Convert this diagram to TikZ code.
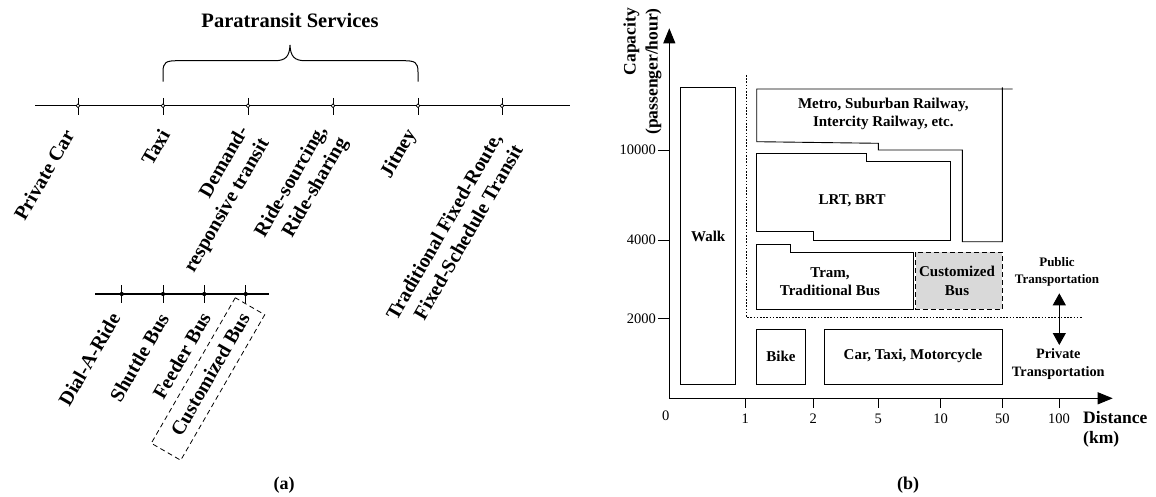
\documentclass[tikz,border=0pt]{standalone}
\usepackage{fontspec}
\setmainfont{Liberation Serif}
\usetikzlibrary{arrows.meta}
\begin{document}
\begin{tikzpicture}[x=1pt,y=-1pt,
  tl/.style={line width=1.1pt},
  tickline/.style={line width=0.9pt},
  rlbl/.style={rotate=60, font=\bfseries\fontsize{20}{24}\selectfont, align=right, inner sep=0pt},
  blbl/.style={font=\bfseries\fontsize{15}{18.3}\selectfont, align=center, inner sep=0pt},
  num/.style={font=\fontsize{14.5}{17}\selectfont, inner sep=0pt},
  region/.style={draw, line width=0.9pt},
  opendot/.style={circle, draw, fill=white, inner sep=0pt, minimum size=3.8pt, line width=0.7pt},
  fulldot/.style={circle, fill=black, inner sep=0pt, minimum size=4.2pt},
  bigtip/.style={-{Triangle[length=15pt,width=12pt]}},
  captitle/.style={font=\bfseries\fontsize{18}{21}\selectfont, inner sep=0pt},
]
\useasboundingbox (0,0) rectangle (1156,497);

% ---------------- panel (a) ----------------
\node[font=\bfseries\fontsize{20.5}{24}\selectfont, inner sep=0pt] (title) at (290,20) {Paratransit Services};

\coordinate (tlL) at (35,105.7);
\coordinate (tlR) at (570,105.7);
\draw[tl] (tlL) -- (tlR);
\foreach \n/\x in {pc/78, tx/163, dm/248, rs/333, jt/418, tr/502} {
  \coordinate (\n t) at (\x,98);
  \coordinate (\n b) at (\x,115);
  \draw[tickline] (\n t) -- (\n b);
  \node[opendot] (\n d) at (\x,105.7) {};
}

% brace
\coordinate (bL) at (163,81.7);
\coordinate (bR) at (418,81.7);
\coordinate (bT) at (290,45);
\draw[line width=1pt] (bL) -- (163,72) .. controls (163,62) and (166,60.7) .. (178,60.7)
  -- (275,60.7) .. controls (286,60.7) and (289.5,56) .. (bT)
  .. controls (290.5,56) and (294,60.7) .. (305,60.7)
  -- (403,60.7) .. controls (415,60.7) and (418,62) .. (418,72) -- (bR);

\node[rlbl] (pcl) at (44,175) {Private Car};
\node[rlbl] (txl) at (155.5,147.2) {Taxi};
\node[rlbl] (dml) at (217.1,199.8) {Demand-\\responsive transit};
\node[rlbl] (rsl) at (302.1,187.7) {Ride-sourcing,\\Ride-sharing};
\node[rlbl] (jtl) at (399.2,154.2) {Jitney};
\node[rlbl] (trl) at (454.2,232.2) {Traditional Fixed-Route,\\Fixed-Schedule Transit};

% sub timeline
\coordinate (stL) at (95,294);
\coordinate (stR) at (269,294);
\draw[tl] (stL) -- (stR);
\foreach \n/\x in {da/121.7, sh/163, fe/204.3, cu/245.7} {
  \coordinate (\n t) at (\x,285);
  \coordinate (\n b) at (\x,303);
  \draw[tickline] (\n t) -- (\n b);
  \node[fulldot] (\n d) at (\x,294) {};
}
\node[rlbl] (dal) at (89.2,359.2) {Dial-A-Ride};
\node[rlbl] (shl) at (139.2,357.5) {Shuttle Bus};
\node[rlbl] (fel) at (181.7,355.8) {Feeder Bus};
\node[rlbl] (cul) at (210,374.2) {Customized Bus};
\node[draw, dash pattern=on 5pt off 3.5pt, line width=0.8pt, rotate=60, minimum width=168pt, minimum height=34pt, inner sep=0pt] (cubox) at (208,379) {};

\node[captitle] (capa) at (284,485) {(a)};

% ---------------- panel (b) ----------------
\coordinate (orig) at (669.3,398.3);
\coordinate (ytop) at (669.3,28.3);
\coordinate (xend) at (1112.7,398.3);
\draw[line width=1pt, bigtip] (orig) -- (ytop);
\draw[line width=1pt, bigtip] (orig) -- (xend);

\node[rotate=90, font=\bfseries\fontsize{17.5}{22}\selectfont, align=right, anchor=east, inner sep=0pt] (ylab) at (642.5,8) {Capacity\\(passenger/hour)};
\node[font=\bfseries\fontsize{17.5}{20}\selectfont, align=left, anchor=west, inner sep=0pt] (xlab) at (1083,429.3) {Distance\\(km)};

\foreach \n/\y/\t in {ya/150/10000, yb/240/4000, yc/318.3/2000} {
  \coordinate (\n 1) at (658,\y);
  \coordinate (\n 2) at (669.3,\y);
  \draw[line width=0.9pt] (\n 1) -- (\n 2);
  \node[num, anchor=east] (\n l) at (656,\y) {\t};
}
\node[num] (x0) at (665.7,415.8) {0};
\foreach \n/\x/\t in {xa/745.3/1, xb/813.3/2, xc/878.3/5, xd/940.7/10, xe/1002.3/50, xf/1059/100} {
  \coordinate (\n 1) at (\x,398.3);
  \coordinate (\n 2) at (\x,408);
  \draw[line width=0.9pt] (\n 1) -- (\n 2);
  \node[num] (\n l) at (\x,419) {\t};
}

% regions
\draw[region] (680.7,87.3) rectangle (735.7,384);
\node[blbl] (walk) at (708.2,236.5) {Walk};

\draw[line width=0.9pt, dash pattern=on 1.6pt off 1.6pt] (746.7,75) -- (746.7,317.7) -- (1082.7,317.7);

\draw[region] (1012.7,89) -- (756.7,89) -- (756.7,141.7) -- (878.3,143.3) -- (878.3,150)
  -- (962.3,150) -- (962.3,241.7) -- (1002.3,241.7) -- (1002.3,87.3);
\node[blbl] (metro) at (883.3,114) {Metro, Suburban Railway,\\Intercity Railway, etc.};

\draw[region] (756.7,153.3) -- (866,153.3) -- (866,161) -- (950,161) -- (950,240.7)
  -- (813.3,240.7) -- (813.3,231.7) -- (756.7,231.7) -- cycle;
\node[blbl] (lrt) at (852,201) {LRT, BRT};

\draw[region] (756.7,244.7) -- (790,244.7) -- (790,252) -- (913.3,252) -- (913.3,309)
  -- (756.7,309) -- cycle;
\node[blbl] (tram) at (830,281.7) {Tram,\\Traditional Bus};

\draw[line width=0.9pt, dash pattern=on 5pt off 3pt, fill=black!15] (915.7,252) rectangle (1002.3,309);
\node[blbl] (cbus) at (957,281) {Customized\\Bus};

\draw[region] (756.3,329) rectangle (805.7,384);
\node[blbl] (bike) at (781,356) {Bike};
\draw[region] (824.3,329) rectangle (1002.3,384);
\node[blbl] (car) at (913,356) {Car, Taxi, Motorcycle};

\node[font=\bfseries\fontsize{13}{17.4}\selectfont, align=center, inner sep=0pt] (pub) at (1057,272) {Public\\Transportation};
\node[font=\bfseries\fontsize{14.3}{18.3}\selectfont, align=center, inner sep=0pt] (priv) at (1058.3,364.2) {Private\\Transportation};
\coordinate (arT) at (1059.3,293.3);
\coordinate (arB) at (1059.3,345);
\draw[line width=1pt, {Triangle[length=12pt,width=13pt]}-{Triangle[length=12pt,width=13pt]}] (arT) -- (arB);

\node[captitle] (capb) at (908,485) {(b)};
\end{tikzpicture}
\end{document}
